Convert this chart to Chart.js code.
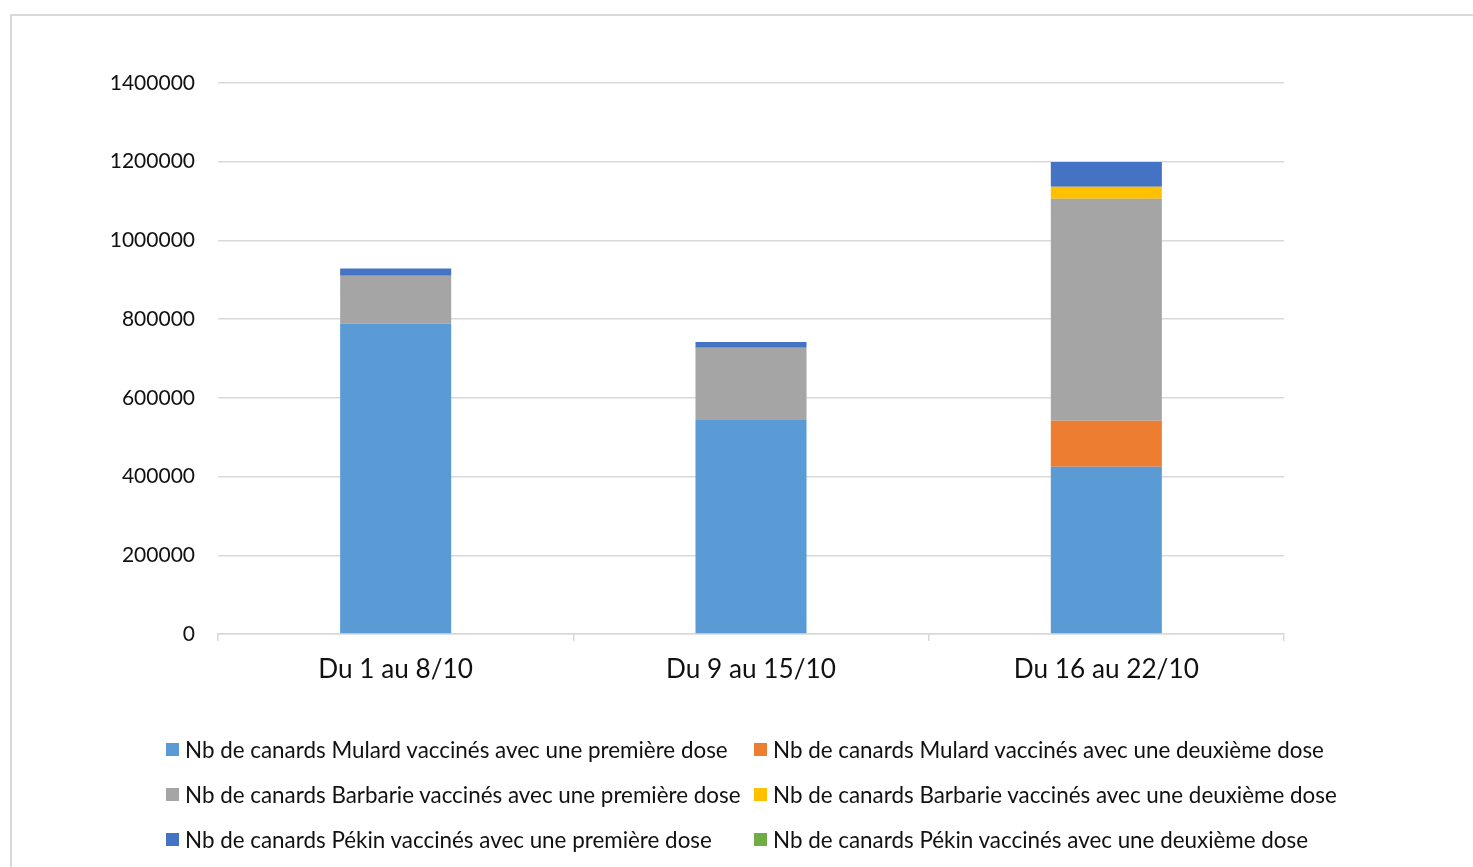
<!DOCTYPE html>
<html>
<head>
<meta charset="utf-8">
<script src="https://cdn.jsdelivr.net/npm/chart.js@4"></script>
<style>
  html, body { margin: 0; padding: 0; background: #fff; }
  #wrap { position: relative; width: 1473px; height: 867px; overflow: hidden; }
  #frame { position: absolute; left: 10px; top: 14px; width: 1500px; height: 900px; border: 2px solid #d9d9d9; box-sizing: border-box; }
  canvas { position: absolute; left: 0; top: 0; }
  #legend { position: absolute; left: 0; top: 0; width: 1473px; height: 867px; font-family: Lato, "Open Sans", sans-serif; font-size: 22.4px; color: #111; }
  .item { position: absolute; display: flex; align-items: center; white-space: nowrap; height: 30px; }
  .sw { width: 13px; height: 13px; margin-right: 6px; }
</style>
</head>
<body>
<div id="wrap">
  <div id="frame"></div>
  <canvas id="c" width="1473" height="867"></canvas>
  <div id="legend"></div>
</div>
<script>
const categories = ["Du 1 au 8/10", "Du 9 au 15/10", "Du 16 au 22/10"];
const seriesNames = [
  "Nb de canards Mulard vaccinés avec une première dose",
  "Nb de canards Mulard vaccinés avec une deuxième dose",
  "Nb de canards Barbarie vaccinés avec une première dose",
  "Nb de canards Barbarie vaccinés avec une deuxième dose",
  "Nb de canards Pékin vaccinés avec une première dose",
  "Nb de canards Pékin vaccinés avec une deuxième dose"
];
const mulard1 = [789000, 544000, 425000];
const mulard2 = [0, 0, 117000];
const barbarie1 = [121000, 183000, 564000];
const barbarie2 = [0, 0, 30500];
const pekin1 = [18500, 15000, 63000];
const pekin2 = [0, 0, 0];
const seriesColors = ["#5B9BD5", "#ED7D31", "#A5A5A5", "#FFC000", "#4472C4", "#70AD47"];
const yTicks = [0, 200000, 400000, 600000, 800000, 1000000, 1200000, 1400000];

const seriesValues = [mulard1, mulard2, barbarie1, barbarie2, pekin1, pekin2];
const FONT = 'Lato, "Open Sans", sans-serif';

const chart = new Chart(document.getElementById('c'), {
  type: 'bar',
  data: {
    labels: categories,
    datasets: seriesValues.map((v, i) => ({
      label: seriesNames[i],
      data: v,
      backgroundColor: seriesColors[i],
      borderWidth: 0,
      barPercentage: 0.3125,
      categoryPercentage: 1.0
    }))
  },
  options: {
    responsive: false,
    animation: false,
    devicePixelRatio: 1,
    layout: { padding: { left: 0, right: 189, top: 83, bottom: 173 } },
    plugins: { legend: { display: false }, tooltip: { enabled: false } },
    scales: {
      x: {
        stacked: true,
        offset: true,
        grid: { offset: true, drawOnChartArea: false, drawTicks: true, tickLength: 7, color: '#d9d9d9', lineWidth: 1.5 },
        border: { display: true, color: '#d9d9d9', width: 1.5 },
        ticks: { color: '#111', font: { family: FONT, size: 26.2 }, padding: 13 },
        afterFit: s => { s.height = 60; }
      },
      y: {
        stacked: true,
        min: 0, max: 1400000,
        afterBuildTicks: s => { s.ticks = yTicks.map(v => ({ value: v })); },
        grid: { color: '#d9d9d9', lineWidth: 1.5, drawTicks: false },
        border: { display: false },
        ticks: { color: '#111', font: { family: FONT, size: 21 }, padding: 23, callback: v => String(v) },
        afterFit: s => { s.width = 218; }
      }
    }
  }
});

// HTML legend built from chart datasets (2 columns, 3 rows)
const legend = document.getElementById('legend');
const colX = [166, 754];
const rowY = [749, 794, 839];
chart.data.datasets.forEach((ds, i) => {
  const el = document.createElement('div');
  el.className = 'item';
  el.style.left = colX[i % 2] + 'px';
  el.style.top = (rowY[Math.floor(i / 2)] - 15) + 'px';
  const sw = document.createElement('span');
  sw.className = 'sw';
  sw.style.background = ds.backgroundColor;
  const tx = document.createElement('span');
  tx.textContent = ds.label;
  el.appendChild(sw);
  el.appendChild(tx);
  legend.appendChild(el);
});
</script>
</body>
</html>
